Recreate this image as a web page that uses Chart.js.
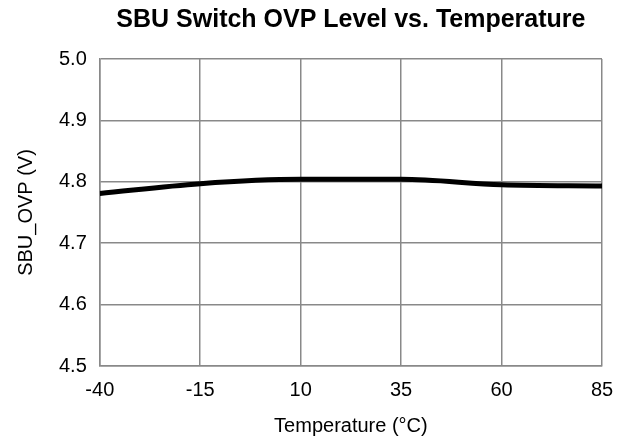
<!DOCTYPE html>
<html>
<head>
<meta charset="utf-8">
<script src="https://cdn.jsdelivr.net/npm/chart.js@4.4.0/dist/chart.umd.min.js"></script>
<style>
  body { margin: 0; background: #fff; }
  #wrap { width: 626px; height: 441px; }
</style>
</head>
<body>
<div id="wrap"><canvas id="ovp" width="626" height="441"></canvas></div>
<script>
// values
var temps = [-40, -15, 10, 35, 60, 85];
var ovpLevel = [4.781, 4.797, 4.804, 4.804, 4.795, 4.793];
var xTicks = [-40, -15, 10, 35, 60, 85];
var yTicks = [4.5, 4.6, 4.7, 4.8, 4.9, 5.0];

var gridColor = '#898989';
var font = "'Liberation Sans', Arial, sans-serif";

var points = temps.map(function(t, i) {
  return { x: t, y: ovpLevel[i] };
});

new Chart(document.getElementById('ovp'), {
  type: 'line',
  data: {
    datasets: [{
      data: points,
      borderColor: '#000',
      borderWidth: 5,
      pointRadius: 0,
      cubicInterpolationMode: 'monotone',
      fill: false
    }]
  },
  options: {
    responsive: false,
    animation: false,
    layout: { padding: { left: 14, right: 24, top: 0, bottom: 3 } },
    plugins: {
      legend: { display: false },
      tooltip: { enabled: false },
      title: {
        display: true,
        fullSize: false,
        text: 'SBU Switch OVP Level vs. Temperature',
        color: '#000',
        font: { family: font, size: 25, weight: 'bold' },
        padding: { top: 5, bottom: 24 }
      }
    },
    scales: {
      x: {
        type: 'linear',
        min: -40,
        max: 85,
        afterBuildTicks: function(axis) {
          axis.ticks = xTicks.map(function(v) { return { value: v }; });
        },
        grid: { color: gridColor, lineWidth: 1.5, drawTicks: false },
        border: { color: gridColor, width: 1.5 },
        ticks: { color: '#000', padding: 12, font: { family: font, size: 20 } },
        title: {
          display: true,
          text: 'Temperature (°C)',
          color: '#000',
          font: { family: font, size: 20 },
          padding: { top: 0, bottom: 0 }
        }
      },
      y: {
        min: 4.5,
        max: 5.0,
        afterBuildTicks: function(axis) {
          axis.ticks = yTicks.map(function(v) { return { value: v }; });
        },
        grid: { color: gridColor, lineWidth: 1.5, drawTicks: false },
        border: { color: gridColor, width: 1.5 },
        ticks: {
          color: '#000',
          padding: 13,
          font: { family: font, size: 20 },
          callback: function(v) { return v.toFixed(1); }
        },
        title: {
          display: true,
          text: 'SBU_OVP (V)',
          color: '#000',
          font: { family: font, size: 20 },
          padding: { top: 0, bottom: 8 }
        }
      }
    }
  }
});
</script>
</body>
</html>
